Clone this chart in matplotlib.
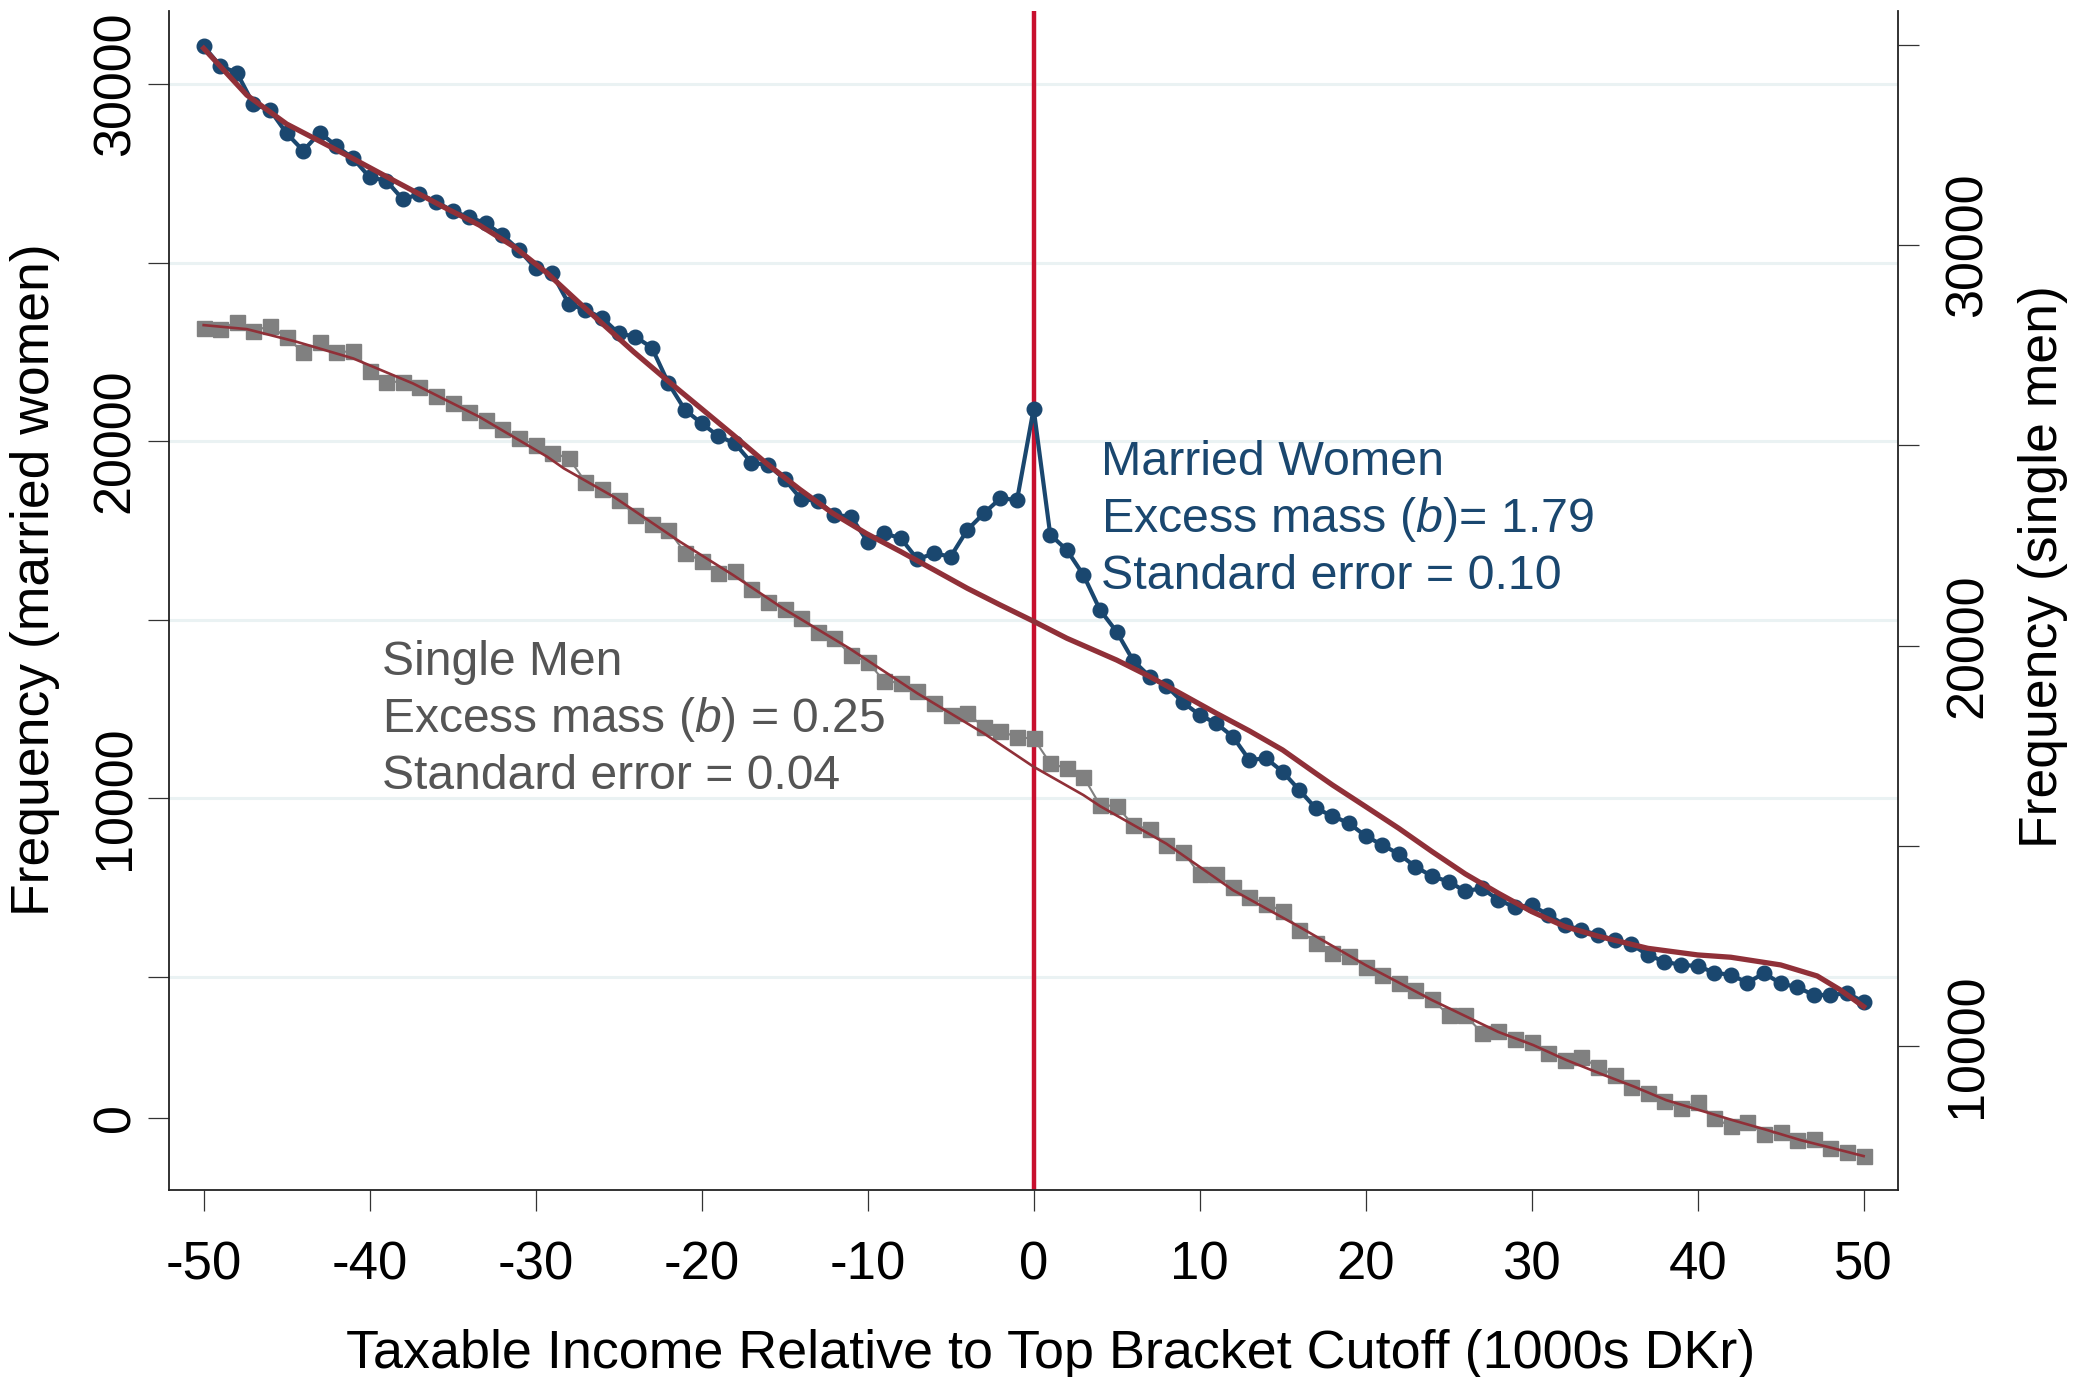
import numpy as np
import matplotlib
matplotlib.use("Agg")
import matplotlib.pyplot as plt

plt.rcParams['font.family'] = ['Liberation Sans', 'DejaVu Sans']
plt.rcParams['axes.unicode_minus'] = False
plt.rcParams['mathtext.fontset'] = 'custom'
plt.rcParams['mathtext.it'] = 'Liberation Sans:italic'
plt.rcParams['mathtext.rm'] = 'Liberation Sans'

# bins of taxable income relative to cutoff (1000s DKr)
income = np.arange(-50, 51)

married = [31064, 30504, 30317, 29431, 29272, 28619, 28132, 28636, 28263, 27919,
           27387, 27292, 26770, 26919, 26703, 26443, 26266, 26098, 25770, 25350,
           24838, 24697, 23838, 23670, 23450, 23017, 22923, 22615, 21617, 20869,
           20496, 20140, 19936, 19393, 19328, 18928, 18368, 18328, 17928, 17881,
           17181, 17415, 17275, 16687, 16855, 16761, 17508, 17975, 18396, 18348,
           20900,
           17378, 16947, 16247, 15267, 14659, 13847, 13399, 13138, 12680, 12326,
           12093, 11718, 11065, 11112, 10737, 10225, 9712, 9497, 9292, 8937,
           8685, 8433, 8077, 7810, 7658, 7390, 7472, 7144, 6940, 7004,
           6724, 6444, 6304, 6164, 6024, 5904, 5604, 5417, 5324, 5296,
           5109, 5044, 4829, 5091, 4811, 4699, 4484, 4484, 4531, 4296]

single = [27918, 27893, 28083, 27858, 27976, 27693, 27319, 27584, 27319, 27352,
          26860, 26585, 26585, 26460, 26228, 26046, 25837, 25629, 25396, 25180,
          25004, 24812, 24672, 24088, 23910, 23631, 23257, 23040, 22882, 22315,
          22108, 21816, 21866, 21401, 21092, 20902, 20690, 20343, 20178, 19761,
          19594, 19111, 19069, 18869, 18570, 18262, 18320, 17955, 17871, 17705,
          17680,
          17057, 16932, 16722, 16015, 15990, 15516, 15410, 15016, 14849, 14290,
          14288, 13975, 13726, 13543, 13376, 12894, 12577, 12327, 12245, 11978,
          11770, 11578, 11396, 11164, 10772, 10772, 10330, 10365, 10178, 10105,
          9830, 9648, 9715, 9475, 9273, 8981, 8831, 8624, 8442, 8607,
          8192, 8000, 8107, 7800, 7858, 7650, 7667, 7443, 7358, 7251]

# counterfactual (fitted) densities
married_fit_x = [-50, -47.4, -45, -41.4, -38.4, -35.4, -33.4, -31.3, -29.3, -27.3,
                 -24.1, -22.1, -20.1, -18.1, -16.1, -14.1, -12.1, -10.1, -8, -6,
                 -4, -2, 0, 2, 5, 7, 9, 11, 13, 15, 17, 18, 20, 22, 24, 26, 28,
                 30, 32, 34, 37, 40, 42, 45, 47.2, 48.6, 50]
married_fit_y = [31000, 29690, 28880, 28010, 27260, 26520, 26050, 25440, 24700, 23840,
                 22500, 21710, 20940, 20170, 19375, 18650, 17975, 17415, 16900, 16390,
                 15875, 15405, 14950, 14475, 13865, 13400, 12890, 12375, 11880, 11346,
                 10690, 10366, 9760, 9150, 8500, 7875, 7332, 6820, 6400, 6130,
                 5790, 5605, 5540, 5325, 5016, 4624, 4157]

single_fit_x = [-50, -47.4, -44.4, -41, -37.4, -33.4, -29.3, -28.3, -25.3, -21.3,
                -18.1, -15.1, -11.1, -7, -3, 0, 3, 4, 8, 11, 12, 16, 20, 24, 28,
                30.1, 32.1, 34.1, 36.2, 38.1, 40.1, 42.1, 44.2, 46.2, 48.2, 50]
single_fit_y = [28000, 27900, 27584, 27169, 26545, 25712, 24713, 24422, 23714, 22590,
                21758, 20927, 19928, 18805, 17806, 16972, 16265, 15990, 15050, 14185,
                13893, 12977, 12020, 11146, 10350, 10022, 9648, 9316, 8981, 8649,
                8399, 8149, 7900, 7650, 7443, 7251]

x_ticks = [-50, -40, -30, -20, -10, 0, 10, 20, 30, 40, 50]
left_grid = [5000, 10000, 15000, 20000, 25000, 30000]
left_labels = ['', '10000', '', '20000', '', '30000']
right_ticks = [10000, 15000, 20000, 25000, 30000, 35000]
right_labels = ['10000', '', '20000', '', '30000', '']

navy = '#1a476f'
gray = '#808080'
maroon = '#903038'
cutoff_red = '#c8102e'

fig = plt.figure(figsize=(20.76, 13.77), dpi=100)
ax = fig.add_axes([0.08155, 0.1358, 0.8327, 0.8562])
ax2 = ax.twinx()

ax.set_xlim(-52.07, 52.07)
ax.set_ylim(-980, 32045)
ax2.set_ylim(6404, 35843)

# gridlines from the left axis
for g in left_grid:
    ax.axhline(g, color='#eaf2f3', lw=2.2, zorder=0)

ax.axvline(0, color=cutoff_red, lw=3.2, zorder=1)

ax.plot(income, married, color=navy, lw=3.0, marker='o', ms=10.5,
        mec=navy, mfc=navy, zorder=2)
ax.plot(married_fit_x, married_fit_y, color=maroon, lw=3.8, zorder=3)

ax2.plot(income, single, color=gray, lw=1.5, marker='s', ms=10.8,
         mec=gray, mfc=gray, zorder=2)
ax2.plot(single_fit_x, single_fit_y, color=maroon, lw=1.9, zorder=3)

# axes styling
for a in (ax, ax2):
    a.spines['top'].set_visible(False)
ax.spines['right'].set_visible(False)
ax2.spines['left'].set_visible(False)
ax2.spines['bottom'].set_visible(False)
for s in ('left', 'bottom'):
    ax.spines[s].set_linewidth(1.3)
    ax.spines[s].set_color('#222222')
ax2.spines['right'].set_linewidth(1.3)
ax2.spines['right'].set_color('#222222')

ax.set_xticks(x_ticks)
ax.set_xticklabels([str(v) for v in x_ticks])
ax.tick_params(axis='x', length=15, width=0.9, color='#333333',
               labelsize=38, pad=21)

ax.set_yticks(left_grid)
ax.set_yticklabels(left_labels)
ax.set_yticks([1050], minor=True)
ax.set_yticklabels(['0'], minor=True)
ax.tick_params(axis='y', which='both', length=15, width=0.9, color='#333333',
               labelsize=37.5, pad=6, labelrotation=90)
for lab in ax.get_yticklabels(which='both'):
    lab.set_va('center')

ax2.set_yticks(right_ticks)
ax2.set_yticklabels(right_labels)
ax2.tick_params(axis='y', length=15, width=0.9, color='#333333',
                labelsize=37.5, pad=18, labelrotation=90)
for lab in ax2.get_yticklabels():
    lab.set_va('center')

ax.set_xlabel('Taxable Income Relative to Top Bracket Cutoff (1000s DKr)',
              fontsize=38.8, va='center')
ax.xaxis.set_label_coords(0.510, -0.139)
ax.set_ylabel('Frequency (married women)', fontsize=38.5, va='center')
ax.yaxis.set_label_coords(-0.0777, 0.518)
ax2.set_ylabel('Frequency (single men)', fontsize=38.5, va='center', rotation=90)
ax2.yaxis.set_label_coords(1.0839, 0.529)

married_text = ['Married Women', 'Excess mass ($b$)= 1.79', 'Standard error = 0.10']
for txt, yy in zip(married_text, [0.6065, 0.5581, 0.5098]):
    ax.text(0.539, yy, txt, transform=ax.transAxes, fontsize=34.8,
            color=navy, va='baseline', ha='left')

single_text = ['Single Men', 'Excess mass ($b$) = 0.25', 'Standard error = 0.04']
for txt, yy in zip(single_text, [0.4368, 0.3885, 0.3401]):
    ax.text(0.123, yy, txt, transform=ax.transAxes, fontsize=34.6,
            color='#555555', va='baseline', ha='left')

fig.savefig('out.png', dpi=100)
